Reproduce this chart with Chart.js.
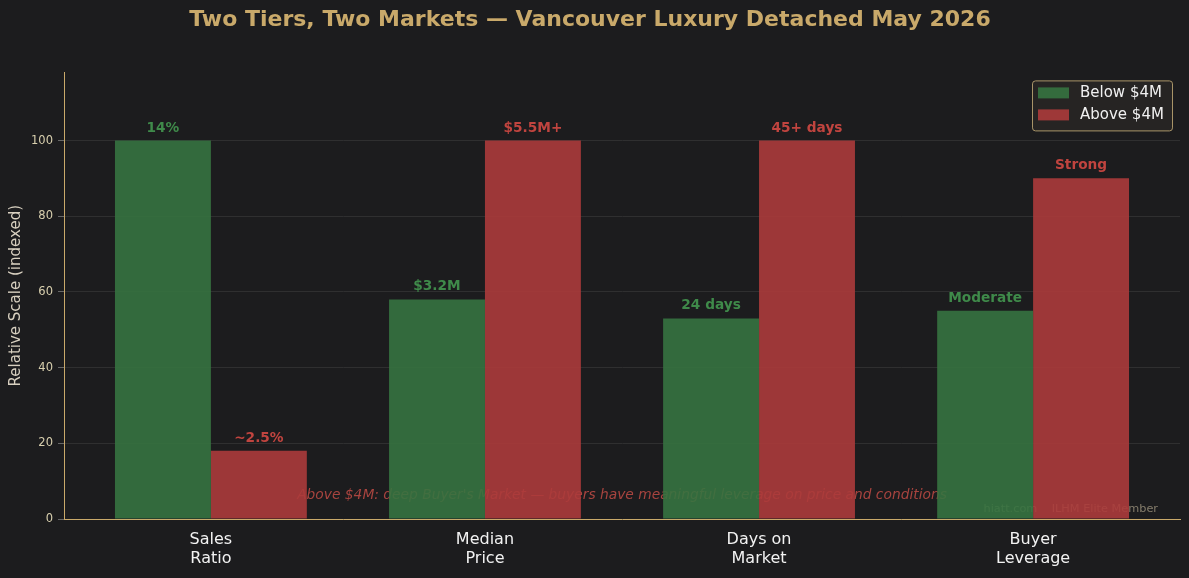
<!DOCTYPE html>
<html>
<head>
<meta charset="utf-8">
<script src="https://cdn.jsdelivr.net/npm/chart.js@4.4.1/dist/chart.umd.min.js"></script>
<style>
  html, body { margin: 0; padding: 0; background: #1c1c1e; }
  #wrap { width: 1189px; height: 578px; position: relative; }
</style>
</head>
<body>
<div id="wrap"><canvas id="tiersChart"></canvas></div>
<script>
// categories + values (indexed)
const categories = [["Sales", "Ratio"], ["Median", "Price"], ["Days on", "Market"], ["Buyer", "Leverage"]];
const belowValues = [100, 58, 53, 55];
const aboveValues = [18, 100, 100, 90];
const belowLabels = ["14%", "$3.2M", "24 days", "Moderate"];
const aboveLabels = ["~2.5%", "$5.5M+", "45+ days", "Strong"];
const yTicks = [0, 20, 40, 60, 80, 100];

const GOLD = "#c9a96a";
const GREEN = "rgba(54, 115, 64, 0.9)";
const RED = "rgba(172, 59, 59, 0.9)";
const GREEN_TXT = "#3f8a4a";
const RED_TXT = "#c0443f";
const FONT = "'DejaVu Sans', sans-serif";

const ctx = document.getElementById("tiersChart").getContext("2d");

// background + text that sits behind the bars
const behindBars = {
  id: "behindBars",
  beforeDraw(chart) {
    const c = chart.ctx;
    c.save();
    c.fillStyle = "#1c1c1e";
    c.fillRect(0, 0, chart.width, chart.height);
    c.restore();
  },
  beforeDatasetsDraw(chart) {
    const c = chart.ctx;
    const a = chart.chartArea;
    c.save();
    c.font = "italic 13.8px " + FONT;
    c.fillStyle = "#a8443f";
    c.textAlign = "center";
    c.textBaseline = "middle";
    c.fillText("Above $4M: deep Buyer's Market — buyers have meaningful leverage on price and conditions",
      (a.left + a.right) / 2, a.bottom - 24);
    c.font = "11.3px " + FONT;
    c.fillStyle = "#857d6c";
    c.textAlign = "right";
    c.fillText("hiatt.com    ILHM Elite Member", a.right - 22, a.bottom - 10);
    c.restore();
  },
};

// value labels on top of bars + legend box
const overlays = {
  id: "overlays",
  afterDatasetsDraw(chart) {
    const c = chart.ctx;
    c.save();
    c.font = "bold 13.7px " + FONT;
    c.textAlign = "center";
    c.textBaseline = "alphabetic";
    [belowLabels, aboveLabels].forEach((labels, di) => {
      const meta = chart.getDatasetMeta(di);
      c.fillStyle = di === 0 ? GREEN_TXT : RED_TXT;
      meta.data.forEach((bar, i) => {
        c.fillText(labels[i], bar.x, bar.y - 9);
      });
    });

    // legend
    const a = chart.chartArea;
    const w = 140, h = 50;
    const x = a.right - 8 - w, y = a.top + 8;
    c.beginPath();
    c.roundRect(x + 0.5, y + 0.5, w, h, 3);
    c.fillStyle = "rgba(40, 38, 36, 0.9)";
    c.fill();
    c.strokeStyle = "#a89468";
    c.lineWidth = 1;
    c.stroke();
    c.font = "15px " + FONT;
    c.textAlign = "left";
    c.textBaseline = "middle";
    chart.data.datasets.forEach((ds, i) => {
      const ry = y + 7 + i * 22;
      c.fillStyle = ds.backgroundColor;
      c.fillRect(x + 6, ry, 31, 11);
      c.fillStyle = "#f0f0f0";
      c.fillText(ds.label, x + 48, ry + 6);
    });
    c.restore();
  },
};

new Chart(ctx, {
  type: "bar",
  data: {
    datasets: [
      {
        label: "Below $4M",
        data: belowValues.map((v, i) => ({ x: i, y: v })),
        backgroundColor: GREEN,
        borderWidth: 0,
      },
      {
        label: "Above $4M",
        data: aboveValues.map((v, i) => ({ x: i, y: v })),
        backgroundColor: RED,
        borderWidth: 0,
      },
    ],
  },
  options: {
    responsive: true,
    maintainAspectRatio: false,
    animation: false,
    categoryPercentage: 0.7,
    barPercentage: 1.0,
    layout: { padding: { left: 0, right: 9, top: 0, bottom: 0 } },
    plugins: {
      legend: { display: false },
      tooltip: { enabled: false },
      title: {
        display: true,
        text: "Two Tiers, Two Markets — Vancouver Luxury Detached May 2026",
        color: GOLD,
        font: { family: FONT, size: 22, weight: "bold" },
        padding: { top: 7, bottom: 39 },
      },
    },
    scales: {
      x: {
        type: "linear",
        min: -0.536,
        max: 3.536,
        offset: false,
        grid: { display: false, drawTicks: true },
        border: { color: GOLD, width: 1 },
        ticks: {
          stepSize: 1,
          includeBounds: false,
          autoSkip: false,
          maxRotation: 0,
          color: "#f2f2f2",
          font: { family: FONT, size: 16 },
          padding: 3,
          callback: (v) => (Number.isInteger(v) && categories[v] ? categories[v] : ""),
        },
        afterFit(scale) { scale.height = 59; },
      },
      y: {
        min: 0,
        max: 118,
        grid: { color: "#2f2f30", tickColor: "#666", tickLength: 6 },
        border: { color: GOLD, width: 1 },
        afterBuildTicks(scale) { scale.ticks = yTicks.map((v) => ({ value: v })); },
        ticks: {
          color: "#d8cfae",
          font: { family: FONT, size: 11.5 },
          padding: 5,
        },
        title: {
          display: true,
          text: "Relative Scale (indexed)",
          color: "#d8d0c0",
          font: { family: FONT, size: 15 },
          padding: { top: 7, bottom: 8 },
        },
        afterFit(scale) { scale.width = 64; },
      },
    },
  },
  plugins: [behindBars, overlays],
});
</script>
</body>
</html>
